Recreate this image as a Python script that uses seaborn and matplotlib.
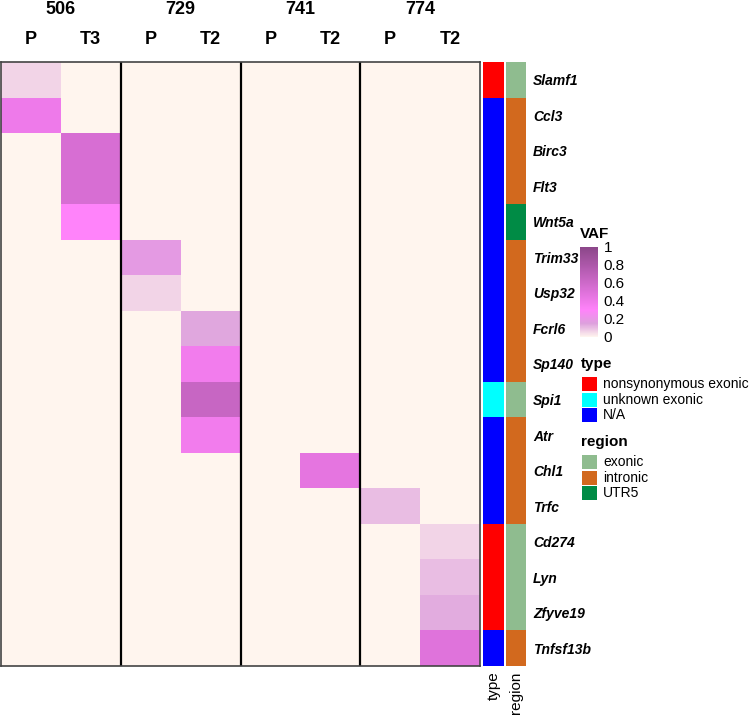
import numpy as np
import pandas as pd
import matplotlib
matplotlib.use("Agg")
import matplotlib.pyplot as plt
import seaborn as sns
from matplotlib.colors import LinearSegmentedColormap, ListedColormap
from matplotlib.patches import Rectangle

# ---- data ----
genes = ["Slamf1", "Ccl3", "Birc3", "Flt3", "Wnt5a", "Trim33", "Usp32", "Fcrl6",
         "Sp140", "Spi1", "Atr", "Chl1", "Trfc", "Cd274", "Lyn", "Zfyve19", "Tnfsf13b"]
patients = ["506", "729", "741", "774"]
samples = ["P", "T3", "P", "T2", "P", "T2", "P", "T2"]
# column index of the sample carrying each gene's mutation, and its VAF
mut_sample = [0, 0, 1, 1, 1, 2, 2, 3, 3, 3, 3, 5, 6, 7, 7, 7, 7]
mut_vaf = [0.06, 0.40, 0.54, 0.54, 0.30, 0.18, 0.06, 0.14, 0.38, 0.64, 0.38,
           0.46, 0.10, 0.06, 0.10, 0.13, 0.49]
mut_type = ["nonsynonymous exonic", "N/A", "N/A", "N/A", "N/A", "N/A", "N/A", "N/A",
            "N/A", "unknown exonic", "N/A", "N/A", "N/A", "nonsynonymous exonic",
            "nonsynonymous exonic", "nonsynonymous exonic", "N/A"]
mut_region = ["exonic", "intronic", "intronic", "intronic", "UTR5", "intronic",
              "intronic", "intronic", "intronic", "exonic", "intronic", "intronic",
              "intronic", "exonic", "exonic", "exonic", "intronic"]
type_levels = ["nonsynonymous exonic", "unknown exonic", "N/A"]
type_colors = ["#FF0000", "#00FFFF", "#0000FF"]
region_levels = ["exonic", "intronic", "UTR5"]
region_colors = ["#8FBC8F", "#D2691E", "#008B45"]
vaf_ticks = [0, 0.2, 0.4, 0.6, 0.8, 1]

sns.set_theme(style="white")
plt.rcParams["font.family"] = ["Liberation Sans", "DejaVu Sans"]
plt.rcParams["text.color"] = "black"
plt.rcParams["xtick.labelcolor"] = "black"
plt.rcParams["ytick.labelcolor"] = "black"

W, H = 750, 717
fig = plt.figure(figsize=(W / 100, H / 100), dpi=100)

def px_axes(x0, y0, x1, y1):
    return fig.add_axes([x0 / W, 1 - y1 / H, (x1 - x0) / W, (y1 - y0) / H])

top, bottom = 62, 666
ax = px_axes(1, top, 480, bottom)
ax_type = px_axes(483, top, 504, bottom)
ax_reg = px_axes(506, top, 526, bottom)
cax = px_axes(580, 247, 598, 337)

vaf = np.zeros((len(genes), len(samples)))
vaf[np.arange(len(genes)), mut_sample] = mut_vaf
df = pd.DataFrame(vaf, index=genes, columns=range(len(samples)))

cmap = LinearSegmentedColormap.from_list(
    "vaf", [(0, "#FFF5EE"), (0.15, "#DDA0DD"), (0.3, "#FF83FA"), (1, "#8B4789")])

sns.heatmap(df, ax=ax, cmap=cmap, vmin=0, vmax=1, cbar_ax=cax,
            xticklabels=samples, yticklabels=False, linewidths=0)
ax.xaxis.tick_top()
ax.tick_params(axis="x", length=0, pad=10, labelsize=13, rotation=0)
for t in ax.get_xticklabels():
    t.set_fontweight("bold")
for i, p in enumerate(patients):
    ax.text(2 * i + 1, 1.0875, p, transform=ax.get_xaxis_transform(),
            ha="center", va="center", fontsize=13, fontweight="bold")
for xv in [2, 4, 6]:
    ax.axvline(xv, color="black", lw=1.6)
for s in ax.spines.values():
    s.set_visible(True)
    s.set_color("#444444")
    s.set_linewidth(1.2)

# colorbar
cbar = ax.collections[0].colorbar
cbar.outline.set_visible(False)
cbar.set_ticks(vaf_ticks)
cbar.set_ticklabels([f"{v:g}" for v in vaf_ticks])
cax.tick_params(axis="y", which="both", direction="in", color="white", length=4,
                width=1, left=True, right=True, labelsize=11, pad=4)
cax.text(0, 1.07, "VAF", transform=cax.transAxes, fontsize=11, fontweight="bold",
         ha="left", va="bottom")

# annotation columns
type_codes = pd.DataFrame({"type": [type_levels.index(t) for t in mut_type]}, index=genes)
reg_codes = pd.DataFrame({"region": [region_levels.index(r) for r in mut_region]}, index=genes)
sns.heatmap(type_codes, ax=ax_type, cmap=ListedColormap(type_colors), vmin=-0.5,
            vmax=2.5, cbar=False, yticklabels=False, linewidths=0)
sns.heatmap(reg_codes, ax=ax_reg, cmap=ListedColormap(region_colors), vmin=-0.5,
            vmax=2.5, cbar=False, yticklabels=genes, linewidths=0)
for a in (ax_type, ax_reg):
    a.tick_params(axis="x", length=0, labelsize=11, rotation=90, pad=4)
    a.set_ylabel("")
ax_reg.yaxis.tick_right()
ax_reg.tick_params(axis="y", length=0, pad=5, rotation=0)
for t in ax_reg.get_yticklabels():
    t.set_fontstyle("italic")
    t.set_fontweight("bold")
    t.set_fontsize(10)

# discrete legends
lax = fig.add_axes([0, 0, 1, 1])
lax.set_xlim(0, W)
lax.set_ylim(H, 0)
lax.axis("off")

def draw_legend(title, levels, colors, y_title):
    lax.text(581, y_title, title, fontsize=11, fontweight="bold", va="center", ha="left")
    for i, (lvl, col) in enumerate(zip(levels, colors)):
        y = y_title + 13 + i * 15.7
        lax.add_patch(Rectangle((582, y), 15, 14, color=col, lw=0))
        lax.text(603, y + 7, lvl, fontsize=10, va="center", ha="left")

draw_legend("type", type_levels, type_colors, 364)
draw_legend("region", region_levels, region_colors, 442)

fig.savefig("out.png", dpi=100)
